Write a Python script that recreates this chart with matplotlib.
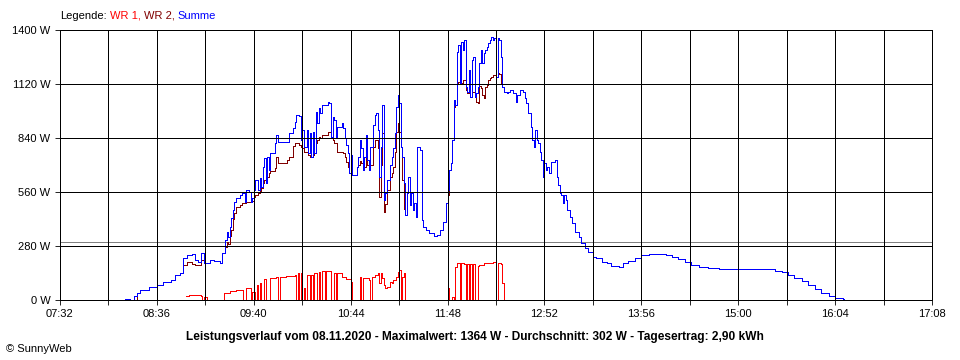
import matplotlib
matplotlib.use("Agg")
import matplotlib.pyplot as plt
from matplotlib.ticker import FixedLocator, NullFormatter, FixedFormatter

plt.rcParams['font.family'] = ['Liberation Sans', 'DejaVu Sans']

# ---------------- data ----------------
zeit = [
    "08:10", "08:15", "08:18", "08:21", "08:23", "08:25", "08:31", "08:36", "08:40", "08:45",
    "08:48", "08:51", "08:53", "08:56", "08:59", "09:01", "09:03", "09:05", "09:07", "09:11",
    "09:14", "09:18", "09:19", "09:21", "09:22", "09:23", "09:24", "09:25", "09:26", "09:27",
    "09:28", "09:31", "09:32", "09:34", "09:35", "09:37", "09:38", "09:39", "09:40", "09:41",
    "09:43", "09:44", "09:45", "09:46", "09:47", "09:48", "09:49", "09:50", "09:51", "09:54",
    "09:55", "09:56", "10:02", "10:03", "10:06", "10:07", "10:08", "10:10", "10:11", "10:12",
    "10:13", "10:15", "10:16", "10:17", "10:18", "10:19", "10:20", "10:21", "10:22", "10:23",
    "10:24", "10:25", "10:29", "10:30", "10:31", "10:32", "10:33", "10:34", "10:35", "10:38",
    "10:39", "10:40", "10:41", "10:42", "10:43", "10:44", "10:45", "10:48", "10:49", "10:50",
    "10:51", "10:52", "10:53", "10:54", "10:55", "10:56", "10:57", "10:59", "11:00", "11:01",
    "11:02", "11:03", "11:04", "11:05", "11:06", "11:07", "11:08", "11:10", "11:11", "11:12",
    "11:13", "11:14", "11:15", "11:16", "11:17", "11:18", "11:19", "11:20", "11:21", "11:22",
    "11:23", "11:24", "11:25", "11:26", "11:27", "11:28", "11:30", "11:31", "11:32", "11:34",
    "11:36", "11:39", "11:41", "11:43", "11:45", "11:47", "11:48", "11:49", "11:50", "11:51",
    "11:52", "11:53", "11:54", "11:55", "11:56", "11:57", "11:58", "11:59", "12:00", "12:01",
    "12:02", "12:03", "12:04", "12:05", "12:06", "12:07", "12:08", "12:09", "12:10", "12:11",
    "12:12", "12:13", "12:14", "12:15", "12:16", "12:17", "12:18", "12:19", "12:20", "12:21",
    "12:22", "12:23", "12:24", "12:25", "12:27", "12:28", "12:29", "12:31", "12:33", "12:34",
    "12:36", "12:38", "12:39", "12:40", "12:41", "12:43", "12:44", "12:45", "12:46", "12:47",
    "12:48", "12:49", "12:50", "12:51", "12:52", "12:53", "12:54", "12:55", "12:56", "12:59",
    "13:00", "13:01", "13:02", "13:03", "13:04", "13:05", "13:06", "13:07", "13:09", "13:10",
    "13:12", "13:15", "13:16", "13:19", "13:21", "13:24", "13:26", "13:30", "13:33", "13:36",
    "13:41", "13:44", "13:47", "13:52", "13:56", "14:01", "14:07", "14:12", "14:16", "14:20",
    "14:25", "14:29", "14:34", "14:40", "14:47", "15:20", "15:24", "15:29", "15:33", "15:37",
    "15:42", "15:46", "15:51", "15:55", "16:00", "16:04", "16:09", "16:10",
]

summe = [
    0, 7, 0, 21, 36, 52, 67, 78, 93, 104,
    130, 140, 218, 233, 238, 207, 197, 243, 192, 207,
    202, 192, 243, 311, 352, 327, 378, 425, 467, 508,
    529, 544, 555, 508, 570, 560, 508, 529, 570, 622,
    570, 633, 586, 690, 736, 607, 741, 674, 762, 814,
    856, 819, 819, 866, 892, 923, 959, 954, 830, 881,
    793, 881, 762, 866, 741, 871, 762, 975, 918, 996,
    970, 1011, 1027, 1021, 845, 949, 933, 845, 897, 918,
    892, 840, 804, 762, 659, 752, 648, 690, 741, 830,
    788, 674, 741, 856, 726, 674, 793, 907, 959, 970,
    881, 638, 793, 1011, 519, 555, 622, 700, 741, 788,
    866, 1001, 1063, 1021, 793, 741, 607, 441, 555, 638,
    493, 555, 467, 503, 430, 793, 778, 415, 378, 363,
    347, 332, 337, 363, 404, 503, 570, 674, 710, 830,
    1037, 1011, 1286, 1322, 1125, 1338, 1296, 1348, 1104, 1078,
    1193, 1052, 1244, 1260, 1052, 1073, 1104, 1229, 1296, 1229,
    1281, 1296, 1312, 1333, 1348, 1364, 1348, 1358, 1156, 1358,
    1348, 1260, 1104, 1078, 1073, 1078, 1089, 1073, 1027, 1063,
    1089, 1078, 1047, 1021, 970, 897, 830, 793, 881, 830,
    814, 767, 726, 638, 710, 674, 690, 659, 715, 726,
    638, 596, 555, 544, 503, 544, 519, 467, 430, 399,
    353, 327, 296, 270, 249, 223, 218, 197, 192, 176,
    171, 192, 202, 218, 233, 236, 236, 233, 223, 213,
    197, 181, 171, 166, 161, 161, 150, 145, 130, 114,
    99, 78, 57, 36, 21, 10, 5, 0,
]

wr2 = [
    0, 7, 0, 0, 36, 52, 67, 78, 93, 104,
    130, 140, 181, 199, 185, 181, 181, 207, 192, 207,
    202, 192, 243, 276, 300, 290, 330, 363, 420, 450,
    484, 493, 501, 501, 510, 510, 508, 515, 536, 545,
    553, 565, 580, 605, 620, 607, 640, 657, 670, 683,
    740, 708, 726, 743, 800, 812, 812, 804, 795, 790,
    769, 769, 752, 743, 741, 752, 760, 812, 830, 847,
    840, 856, 873, 873, 845, 830, 812, 812, 769, 769,
    760, 740, 717, 691, 657, 648, 648, 690, 700, 720,
    710, 674, 691, 743, 700, 674, 700, 793, 830, 830,
    790, 536, 700, 864, 458, 500, 570, 640, 660, 690,
    770, 870, 916, 870, 793, 620, 470, 441, 555, 638,
    493, 555, 467, 503, 430, 793, 778, 415, 378, 363,
    347, 332, 337, 363, 404, 503, 544, 674, 710, 830,
    1000, 1011, 1123, 1132, 1120, 1123, 1141, 1141, 1089, 1071,
    1106, 1052, 1080, 1080, 1052, 1028, 1020, 1110, 1098, 1063,
    1045, 1106, 1115, 1141, 1150, 1158, 1167, 1167, 1156, 1176,
    1170, 1123, 1104, 1078, 1073, 1078, 1089, 1073, 1027, 1063,
    1089, 1078, 1047, 1021, 970, 897, 830, 793, 881, 830,
    814, 767, 726, 638, 710, 674, 690, 659, 715, 726,
    638, 596, 555, 544, 503, 544, 519, 467, 430, 399,
    353, 327, 296, 270, 249, 223, 218, 197, 192, 176,
    171, 192, 202, 218, 233, 236, 236, 233, 223, 213,
    197, 181, 171, 166, 161, 161, 150, 145, 130, 114,
    99, 78, 57, 36, 21, 10, 5, 0,
]

wr1_zeit = [
    "08:55", "08:57", "09:05", "09:06", "09:07", "09:09", "09:20", "09:24", "09:28", "09:33",
    "09:35", "09:38", "09:39", "09:41", "09:42", "09:43", "09:44", "09:45", "09:47", "09:48",
    "09:51", "09:55", "09:56", "09:57", "10:01", "10:07", "10:08", "10:09", "10:10", "10:11",
    "10:12", "10:13", "10:14", "10:15", "10:17", "10:18", "10:19", "10:20", "10:22", "10:23",
    "10:24", "10:25", "10:27", "10:28", "10:31", "10:33", "10:34", "10:35", "10:38", "10:41",
    "10:44", "10:45", "10:50", "10:51", "10:52", "10:56", "10:57", "10:58", "11:00", "11:02",
    "11:03", "11:04", "11:05", "11:06", "11:07", "11:08", "11:10", "11:11", "11:12", "11:14",
    "11:15", "11:16", "11:17", "11:18", "11:19", "11:20", "11:48", "11:49", "11:51", "11:52",
    "11:53", "11:54", "11:56", "11:57", "11:59", "12:00", "12:01", "12:02", "12:03", "12:04",
    "12:05", "12:06", "12:08", "12:09", "12:12", "12:16", "12:18", "12:20", "12:21", "12:23",
    "12:24", "12:25",
]
wr1 = [
    21, 26, 21, 0, 17, 0, 38, 47, 52, 0,
    60, 0, 43, 0, 78, 0, 86, 0, 107, 0,
    112, 121, 0, 121, 127, 130, 0, 138, 0, 142,
    0, 60, 0, 130, 0, 130, 0, 138, 0, 147,
    0, 150, 0, 152, 0, 140, 0, 138, 121, 107,
    95, 0, 121, 0, 116, 104, 0, 121, 130, 138,
    90, 138, 112, 78, 60, 66, 95, 86, 104, 121,
    147, 155, 0, 121, 138, 0, 60, 0, 17, 0,
    173, 190, 0, 190, 185, 0, 185, 0, 185, 0,
    185, 0, 175, 181, 190, 193, 199, 0, 190, 185,
    86, 0,
]

y_ticks = [0, 280, 560, 840, 1120, 1400]
x_labels = ["07:32", "08:36", "09:40", "10:44", "11:48", "12:52", "13:56", "15:00", "16:04", "17:08"]
durchschnitt = 302
titel = ("Leistungsverlauf vom 08.11.2020 - Maximalwert: 1364 W - Durchschnitt: 302 W"
         " - Tagesertrag: 2,90 kWh")
legende = [("Legende:", "#000000"), ("WR 1,", "#ff0000"), ("WR 2,", "#800000"), ("Summe", "#0000ff")]

assert len(zeit) == len(summe) == len(wr2)
assert len(wr1_zeit) == len(wr1)


def to_min(s):
    h, m = s.split(":")
    return int(h) * 60 + int(m)


t = [to_min(s) for s in zeit]
t1 = [to_min(s) for s in wr1_zeit]

W, H = 960, 360
fig = plt.figure(figsize=(W / 100, H / 100), dpi=100)
fig.patch.set_facecolor("white")
ax = fig.add_axes([60 / W, 60 / H, 872 / W, 270 / H])

x0, x1 = to_min(x_labels[0]), to_min(x_labels[-1])
ax.set_xlim(x0, x1)
ax.set_ylim(0, 1400)

LW = 0.6
ax.axhline(durchschnitt, color="#808080", lw=LW, zorder=1.1, antialiased=False)
ax.plot(t1, wr1, drawstyle="steps-post", color="#ff0000", lw=LW, zorder=1.2, antialiased=False)
ax.plot(t, wr2, drawstyle="steps-post", color="#800000", lw=LW, zorder=1.4, antialiased=False)
ax.plot(t, summe, drawstyle="steps-post", color="#0000ff", lw=LW, zorder=1.6, antialiased=False)

major = [to_min(s) for s in x_labels]
minor = [m + 32 for m in major[:-1]]
ax.xaxis.set_major_locator(FixedLocator(major))
ax.xaxis.set_major_formatter(FixedFormatter(x_labels))
ax.xaxis.set_minor_locator(FixedLocator(minor))
ax.xaxis.set_minor_formatter(NullFormatter())
ax.yaxis.set_major_locator(FixedLocator(y_ticks))
ax.yaxis.set_major_formatter(FixedFormatter([f"{v} W" for v in y_ticks]))

ax.set_axisbelow(False)
ax.grid(True, which="both", color="black", lw=LW, antialiased=False)
ax.tick_params(which="both", direction="out", length=3.6, width=LW, color="black",
               labelsize=8, labelcolor="black")
ax.tick_params(axis="x", pad=3)
ax.tick_params(axis="y", pad=3.4)
for sp in ax.spines.values():
    sp.set_color("black")
    sp.set_linewidth(LW)
    sp.set_antialiased(False)

fig.canvas.draw()
r = fig.canvas.get_renderer()

# legend line at the top
x = 60.0
for txt, col in legende:
    tt = fig.text(x / W, (H - 16) / H, txt, color=col, fontsize=8, ha="left", va="center")
    bb = tt.get_window_extent(r)
    x += bb.width + 3.2

# bold caption, fitted to the reference width
cap = fig.text(475 / W, (H - 337) / H, titel, fontsize=8, fontweight="bold",
               ha="center", va="center", color="black")
wpx = cap.get_window_extent(r).width
cap.set_fontsize(8 * 584 / wpx)

fig.text(6 / W, (H - 349) / H, "\u00a9 SunnyWeb", fontsize=8, ha="left", va="center", color="black")

fig.savefig("out.png", dpi=100, facecolor="white")
